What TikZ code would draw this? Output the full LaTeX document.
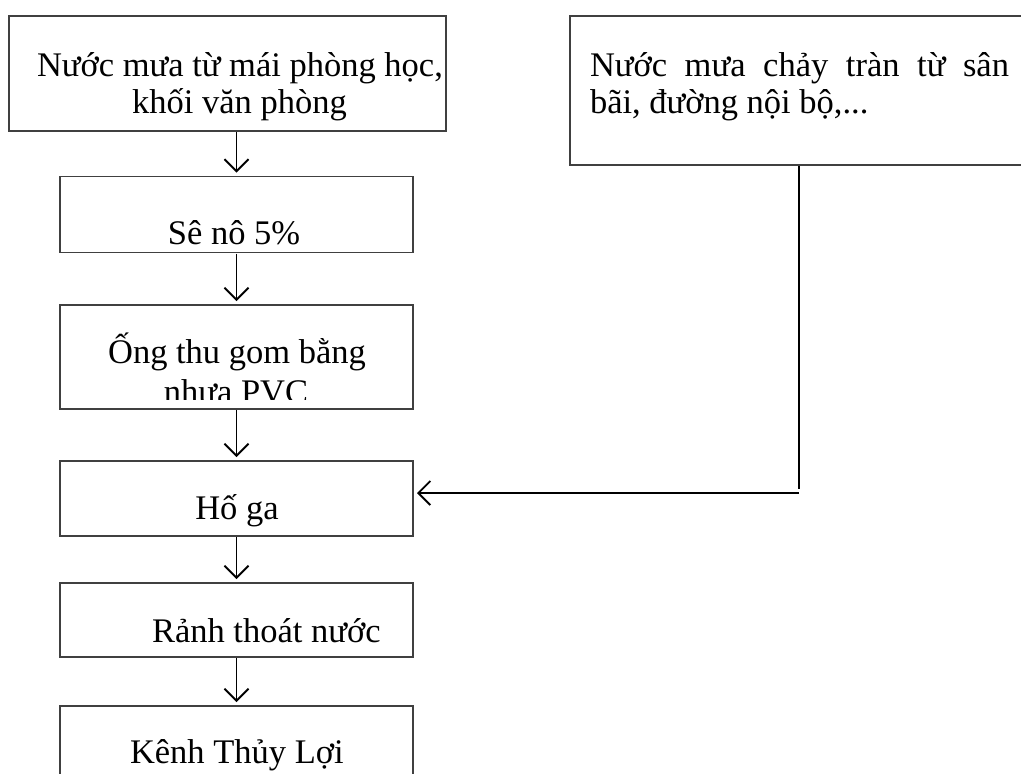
\documentclass[tikz,border=0pt]{standalone}
\usepackage{fontspec}
\setmainfont{Liberation Serif}
\usetikzlibrary{arrows.meta}

\begin{document}
\begin{tikzpicture}[x=1pt, y=-1pt,
  box/.style={draw=black!75, line width=1.3pt, rectangle, inner sep=0pt, outer sep=0pt},
  txt/.style={inner sep=0pt, outer sep=0pt, font=\fontsize{34.5}{37}\selectfont},
  arr/.style={draw=black, line width=1.9pt,
    -{Straight Barb[length=12pt, width=24pt, line width=1.9pt]},
    shorten <=1pt, shorten >=4pt}
]
% page frame; whatever lies outside is cut away
\clip (0,0) rectangle (1021,774);

% boxes of the main column
\node[box, minimum width=437pt, minimum height=115pt] (b1) at (227.5,73.5) {};
\node[box, minimum width=353pt, minimum height=76pt]  (b2) at (236.5,214.5) {};
\node[box, minimum width=353pt, minimum height=104pt] (b3) at (236.5,357) {};
\node[box, minimum width=353pt, minimum height=75pt]  (b4) at (236.5,498.5) {};
\node[box, minimum width=353pt, minimum height=74pt]  (b5) at (236.5,620) {};
\node[box, minimum width=353pt, minimum height=94pt]  (b6) at (236.5,753) {};
% side source box, running past the right edge
\node[box, minimum width=470pt, minimum height=149pt] (bR) at (805,90.5) {};

% texts
\node[txt, anchor=base west] (t1a) at (37,76) {Nước mưa từ mái phòng học,};
\node[txt, anchor=base] (t1b) at (239.5,113) {khối văn phòng};
\node[txt, anchor=base] (t2) at (234,244) {Sê nô 5\%};
\node[txt, anchor=base] (t3a) at (237,363) {Ống thu gom bằng};
% second line of this box is cut off by the box's inner margin
\begin{scope}
  \clip (61,306) rectangle (412,399);
  \node[txt, anchor=base] (t3b) at (236,403) {nhựa PVC};
\end{scope}
\node[txt, anchor=base] (t4) at (237,519) {Hố ga};
\node[txt, anchor=base west] (t5) at (152,642) {Rảnh thoát nước};
\node[txt, anchor=base west] (t6) at (130,763) {Kênh Thủy Lợi};
\node[txt, anchor=base west] (tRa) at (590,76) {\makebox[419pt][s]{Nước mưa chảy tràn từ sân}};
\node[txt, anchor=base west] (tRb) at (590,113) {bãi, đường nội bộ,...};

% flow down the column
\draw[arr] (b1.south -| b2.north) -- (b2.north);
\draw[arr] (b2.south) -- (b3.north);
\draw[arr] (b3.south) -- (b4.north);
\draw[arr] (b4.south) -- (b5.north);
\draw[arr] (b5.south) -- (b6.north);

% side inflow into the manhole
\coordinate (bend) at (799,493);
\draw[arr, -] (bR.south -| bend) -- (bend);
\draw[arr, shorten <=0pt] (bend) -- (b4.east |- bend);
\end{tikzpicture}
\end{document}
